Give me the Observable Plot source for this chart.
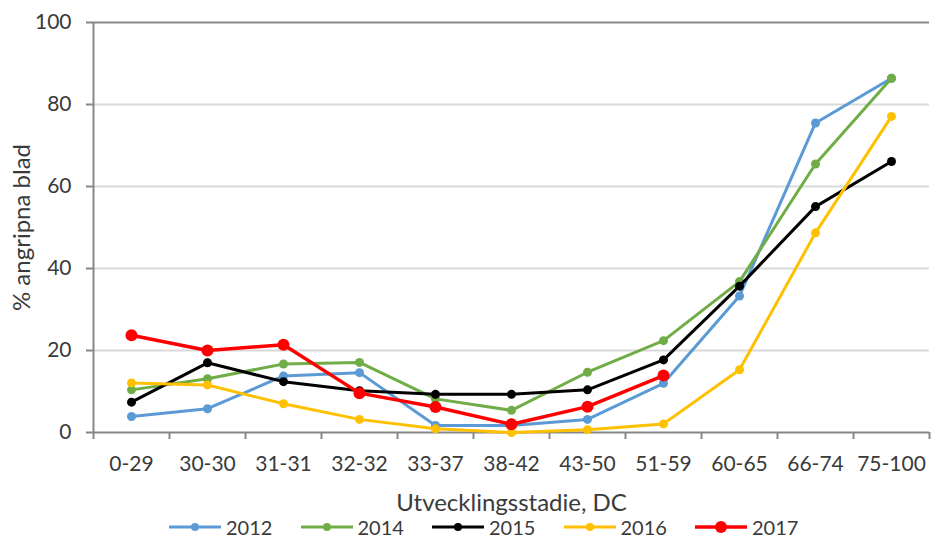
<!DOCTYPE html>
<html>
<head>
<meta charset="utf-8">
<script src="https://cdn.jsdelivr.net/npm/d3@7"></script>
<script src="https://cdn.jsdelivr.net/npm/@observablehq/plot@0.6"></script>
<style>
  html, body { margin: 0; padding: 0; background: #fff; }
  body { width: 931px; height: 538px; overflow: hidden; font-family: Lato, "Open Sans", sans-serif; }
  #chart svg { display: block; }
  #legend { display: flex; padding-left: 169px; height: 21px; align-items: center; font-size: 20px; line-height: 20px; color: #3a3a3a; }
  .item { display: flex; align-items: center; width: 131.5px; }
  .item svg { margin-right: 5px; }
</style>
</head>
<body>
<div id="chart"></div>
<div id="legend"></div>
<script>
const categories = ["0-29", "30-30", "31-31", "32-32", "33-37", "38-42", "43-50", "51-59", "60-65", "66-74", "75-100"];
const years = ["2012", "2014", "2015", "2016", "2017"];
const colors = ["#5b9bd5", "#70ad47", "#000000", "#ffc000", "#ff0000"];
const v2012 = [3.9, 5.8, 13.8, 14.6, 1.7, 1.7, 3.2, 12.0, 33.3, 75.5, 86.4];
const v2014 = [10.4, 13.1, 16.7, 17.1, 8.2, 5.4, 14.7, 22.4, 36.8, 65.5, 86.4];
const v2015 = [7.4, 17.0, 12.4, 10.2, 9.3, 9.3, 10.4, 17.7, 35.7, 55.1, 66.1];
const v2016 = [12.1, 11.6, 7.0, 3.2, 0.9, 0.0, 0.7, 2.1, 15.3, 48.7, 77.1];
const v2017 = [23.7, 20.0, 21.4, 9.6, 6.2, 2.0, 6.3, 13.9];
const yTicks = [0, 20, 40, 60, 80, 100];
const xLabel = "Utvecklingsstadie, DC";
const yLabel = "% angripna blad";

const seriesValues = [v2012, v2014, v2015, v2016, v2017];
const isBig = y => y === "2017";

const seriesMarks = [];
years.forEach((yr, k) => {
  const rows = seriesValues[k].map((v, i) => ({i, v, year: yr}));
  seriesMarks.push(Plot.line(rows, {x: "i", y: "v", stroke: "year", strokeWidth: isBig(yr) ? 3.5 : 3}));
  seriesMarks.push(Plot.dot(rows, {x: "i", y: "v", fill: "year", r: isBig(yr) ? 6 : 4.5}));
});

const boundaries = d3.range(categories.length + 1).map(i => i - 0.5);
const axisGray = "#878787";
const textColor = "#3a3a3a";

const chart = Plot.plot({
  width: 931,
  height: 516,
  marginLeft: 93,
  marginRight: 2,
  marginTop: 22,
  marginBottom: 84,
  style: {fontFamily: "Lato, 'Open Sans', sans-serif", background: "#fff"},
  x: {type: "linear", domain: [-0.5, categories.length - 0.5], axis: null},
  y: {domain: [0, 100], axis: null},
  color: {domain: years, range: colors},
  marks: [
    Plot.gridY([20, 40, 60, 80], {stroke: "#d9d9d9", strokeOpacity: 1, strokeWidth: 2}),
    Plot.ruleY([100], {stroke: axisGray, strokeWidth: 2}),
    Plot.ruleY([0], {stroke: axisGray, strokeWidth: 2}),
    Plot.ruleX([-0.5], {stroke: axisGray, strokeWidth: 2}),
    Plot.axisY({ticks: yTicks, tickSize: 7, tickPadding: 15, stroke: axisGray, strokeWidth: 2, fill: textColor, fontSize: 21, label: null}),
    Plot.axisX({ticks: boundaries, tickSize: 7, tickFormat: () => "", stroke: axisGray, strokeWidth: 2, label: null}),
    Plot.axisX({ticks: d3.range(categories.length), tickSize: 0, tickPadding: 24, tickFormat: i => categories[i], fill: textColor, fontSize: 21, label: null}),
    Plot.text([xLabel], {frameAnchor: "bottom", dy: 71, fill: textColor, fontSize: 24, lineAnchor: "middle"}),
    Plot.text([yLabel], {frameAnchor: "left", dx: -71, rotate: -90, textAnchor: "middle", fill: textColor, fontSize: 24}),
    ...seriesMarks
  ]
});
document.getElementById("chart").appendChild(chart);

const legend = document.getElementById("legend");
years.forEach((yr, k) => {
  const item = document.createElement("div");
  item.className = "item";
  const r = isBig(yr) ? 6 : 4;
  const sw = isBig(yr) ? 3.5 : 3;
  item.innerHTML = `<svg width="52" height="14"><line x1="0" x2="52" y1="7" y2="7" stroke="${colors[k]}" stroke-width="${sw}"/><circle cx="26" cy="7" r="${r}" fill="${colors[k]}"/></svg><span>${yr}</span>`;
  legend.appendChild(item);
});
</script>
</body>
</html>
